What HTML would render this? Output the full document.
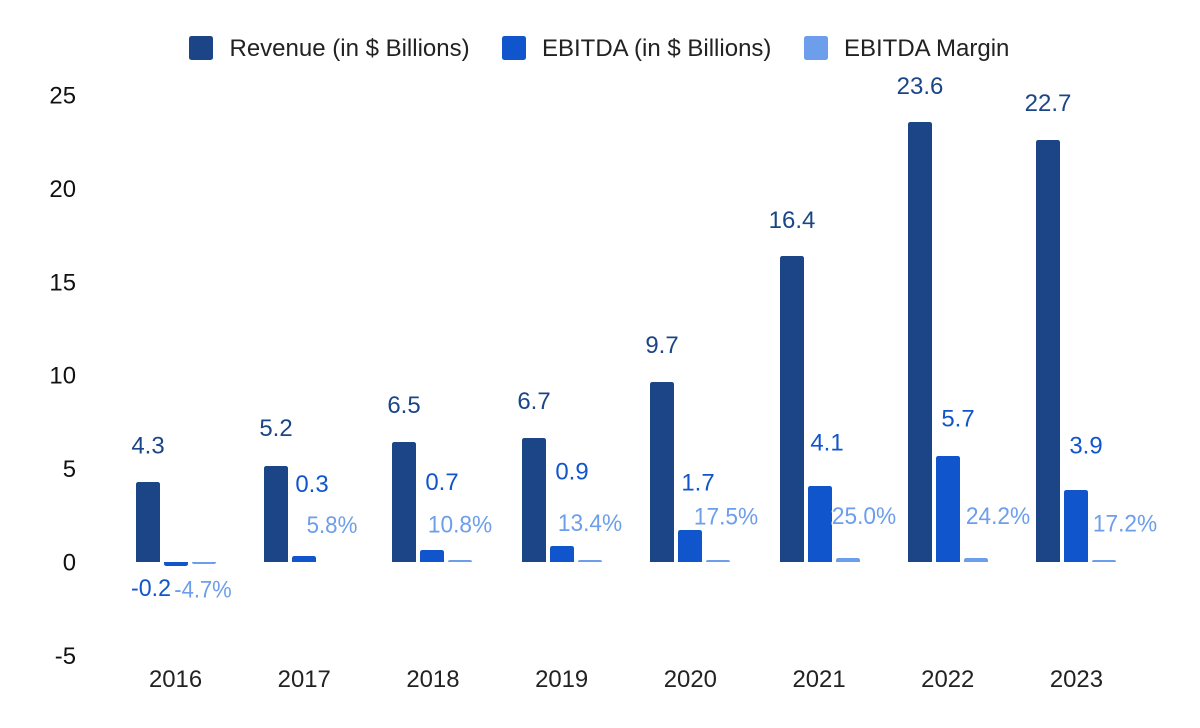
<!DOCTYPE html>
<html lang="en">
<head>
<meta charset="utf-8">
<title>Revenue and EBITDA 2016-2023</title>
<style>
html,body{margin:0;padding:0;background:#fff;}
svg{display:block;font-family:"Liberation Sans",Arial,sans-serif;}
.aura{paint-order:stroke;stroke:#fff;stroke-width:3px;stroke-linejoin:round;}
</style>
</head>
<body>
<svg id="chart" width="1200" height="728" viewBox="0 0 1200 728" xmlns="http://www.w3.org/2000/svg">
  <rect x="0" y="0" width="1200" height="728" fill="#ffffff"/>
  <g>
    <g>
      <rect x="189" y="36" width="24" height="24" rx="2.5" fill="#1c4587"/>
      <text x="229.5" y="56" font-size="24" fill="#222222">Revenue (in $ Billions)</text>
    </g>
    <g>
      <rect x="502" y="36" width="24" height="24" rx="2.5" fill="#1155cc"/>
      <text x="542" y="56" font-size="24" fill="#222222">EBITDA (in $ Billions)</text>
    </g>
    <g>
      <rect x="804" y="36" width="24" height="24" rx="2.5" fill="#6d9eeb"/>
      <text x="844" y="56" font-size="24" fill="#222222">EBITDA Margin</text>
    </g>
  </g>
  <g id="y-axis"></g>
  <g id="x-axis"></g>
  <g id="bars"></g>
  <g id="labels"></g>
</svg>
<script>
const categories = ['2016','2017','2018','2019','2020','2021','2022','2023'];
const revenue = [4.3,5.2,6.5,6.7,9.7,16.4,23.6,22.66];
const ebitda = [-0.2,0.34,0.7,0.9,1.72,4.1,5.7,3.9];
const margin = [-0.047,0.058,0.108,0.134,0.175,0.25,0.242,0.172];
const yTicks = [25,20,15,10,5,0,-5];

// Hand-placed label nudges, relative to each bar (the reference labels were dragged)
const revenueLabelRise = [28.5,30,29,29,29,28,28,29];
const ebitdaLabelShift = [-25,8,10,10,8,7,10,10];
const ebitdaLabelRise = [-30,64,60,66.5,39.5,35.5,29.5,36.5];
const marginLabelShift = [-1,0,0,0,8,16,22,21];
const marginLabelRise = [-33.7,29,27.5,29,35.7,34,34,28.3];

const svgNS = 'http://www.w3.org/2000/svg';
const pxPerUnit = 18.68;
const zeroY = 562;
const y = v => zeroY - v * pxPerUnit;
const snapY = v => Math.ceil(y(v) / 2) * 2;
const groupLeft = i => 135.55 + 128.7 * i;
const snapX = i => Math.round(groupLeft(i) / 2) * 2;
const barWidth = 24;
const barStep = 28;

function make(tag, attrs, parent, text) {
  const el = document.createElementNS(svgNS, tag);
  for (const k in attrs) el.setAttribute(k, attrs[k]);
  if (text !== undefined) el.textContent = text;
  parent.appendChild(el);
  return el;
}

function labelWidth(t, size) {
  let em = 0;
  for (const c of t) em += c === '.' ? 0.263 : c === '%' ? 0.732 : c === '-' ? 0.276 : 0.5615;
  return em * size;
}

function barPath(x, v) {
  const top = snapY(v);
  const r = 2.5;
  if (v >= 0) {
    const h = zeroY - top;
    if (h <= 0) return '';
    const rr = Math.min(r, h);
    return `M${x} ${zeroY}V${top + rr}Q${x} ${top} ${x + rr} ${top}H${x + barWidth - rr}Q${x + barWidth} ${top} ${x + barWidth} ${top + rr}V${zeroY}Z`;
  }
  const h = top - zeroY;
  const rr = Math.min(r, h);
  return `M${x} ${zeroY}V${top - rr}Q${x} ${top} ${x + rr} ${top}H${x + barWidth - rr}Q${x + barWidth} ${top} ${x + barWidth} ${top - rr}V${zeroY}Z`;
}

const yAxis = document.getElementById('y-axis');
yTicks.forEach(t => {
  const el = make('text', {x: 76, y: y(t) + 8.5, 'text-anchor': 'end', 'font-size': 23.9, fill: '#111111'}, yAxis, String(t));
  
  
});

const xAxis = document.getElementById('x-axis');
categories.forEach((c, i) => {
  const el = make('text', {x: groupLeft(i) + 40, y: 687, 'text-anchor': 'middle', 'font-size': 23.9, fill: '#222222'}, xAxis, c);
  
  
});

const barsGroup = document.getElementById('bars');
const labelsGroup = document.getElementById('labels');

function drawBars(values, slot, color) {
  values.forEach((v, i) => {
    const d = barPath(snapX(i) + slot * barStep, v);
    if (!d) return;
    const el = make('path', {d: d, fill: color}, barsGroup);
    
    
  });
}

function drawLabel(text, cx, baseline, color) {
  const el = make('text', {
    x: cx, y: baseline, 'text-anchor': 'middle', 'font-size': 24, fill: color,
    textLength: labelWidth(text, 24).toFixed(1), lengthAdjust: 'spacingAndGlyphs', class: 'aura'
  }, labelsGroup, text);
  
  
}

drawBars(revenue, 0, '#1c4587');
drawBars(ebitda, 1, '#1155cc');
drawBars(margin, 2, '#6d9eeb');

revenue.forEach((v, i) => {
  drawLabel(v.toFixed(1), snapX(i) + 12, snapY(v) - revenueLabelRise[i], '#1c4587');
});
ebitda.forEach((v, i) => {
  drawLabel(v.toFixed(1), snapX(i) + 40 + ebitdaLabelShift[i], snapY(v) - ebitdaLabelRise[i], '#1155cc');
});
margin.forEach((v, i) => {
  drawLabel((v * 100).toFixed(1) + '%', snapX(i) + 68 + marginLabelShift[i], snapY(v) - marginLabelRise[i], '#6d9eeb');
});
</script>
</body>
</html>
